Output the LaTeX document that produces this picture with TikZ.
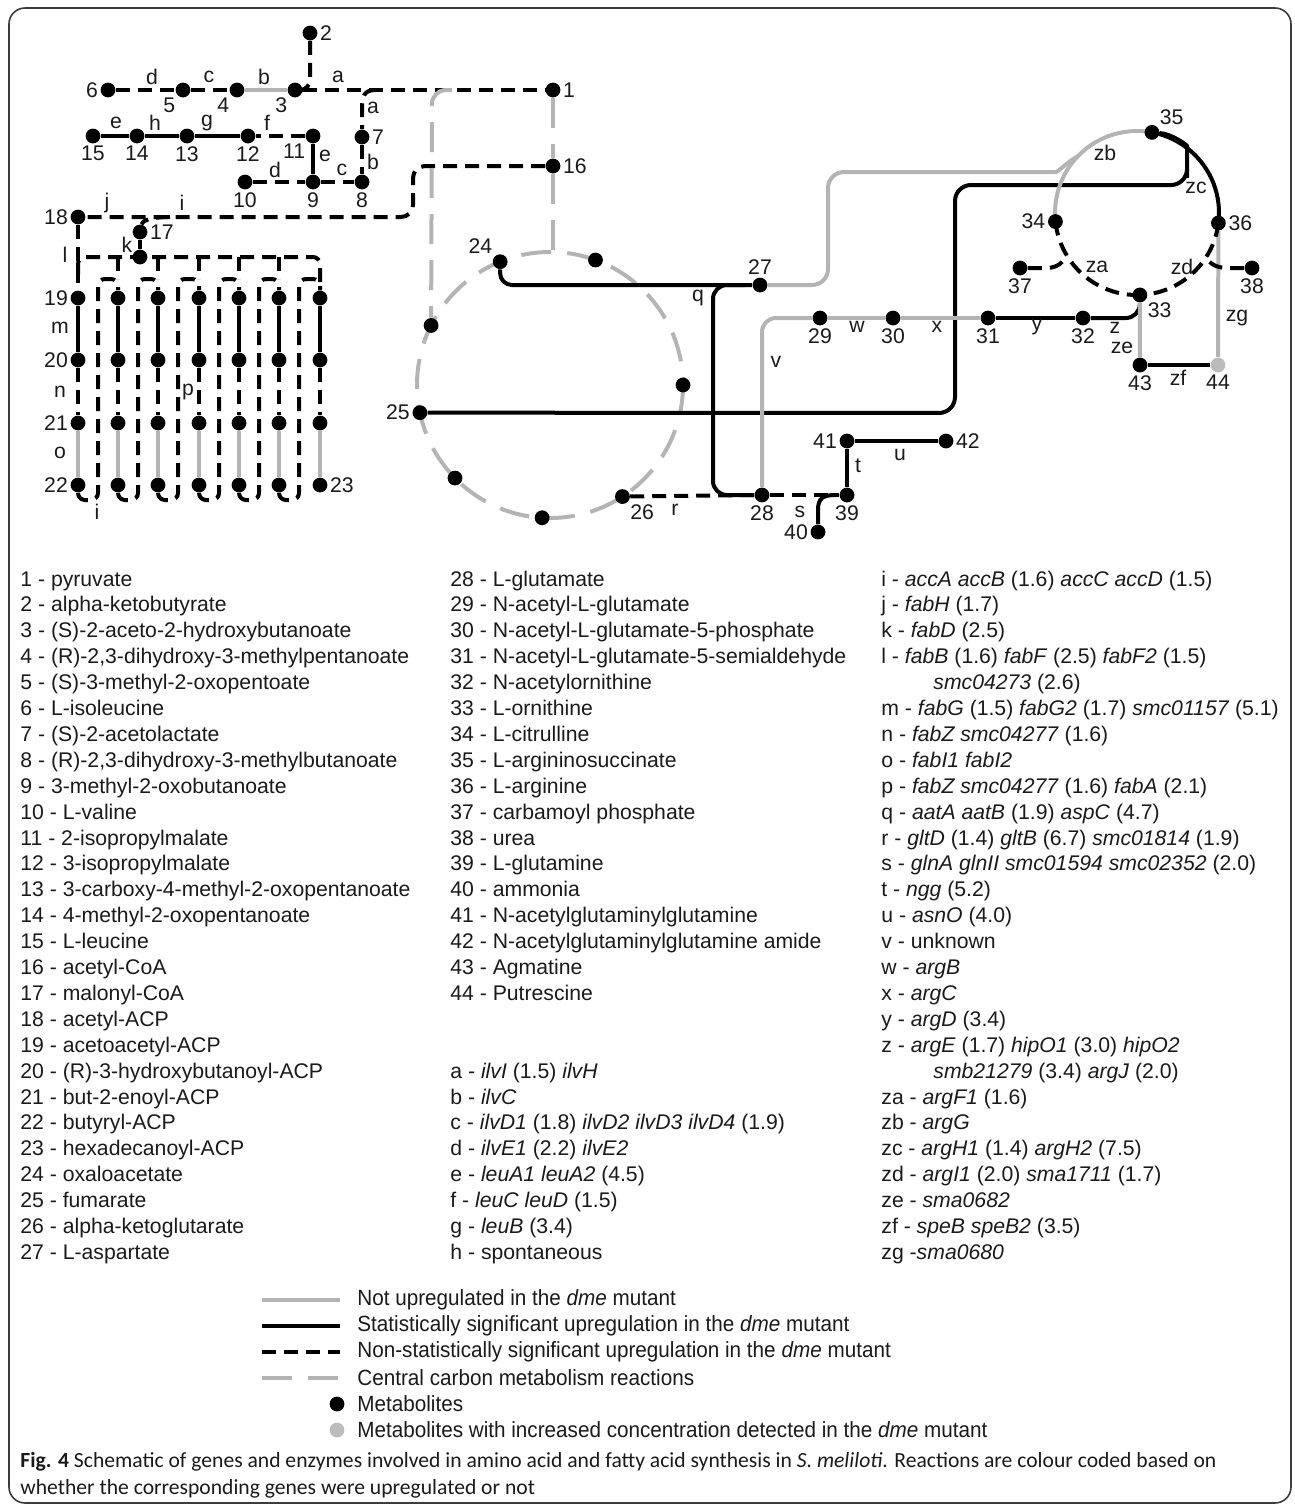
\documentclass[tikz,border=0pt]{standalone}
\usepackage{fontspec}
\setmainfont{Liberation Sans}
\newfontfamily\legfont[FakeStretch=0.94]{Liberation Sans}
\newfontfamily\capfont{Carlito}
\usetikzlibrary{positioning}
\pgfdeclarelayer{bg}
\pgfsetlayers{bg,main}
\definecolor{PathGray}{HTML}{B4B4B4}
\definecolor{DotGray}{HTML}{BCBCBC}
\definecolor{FrameGray}{HTML}{3C3C3C}
\definecolor{InkBlack}{HTML}{1A1A1A}

\tikzset{
  metab/.style={circle,fill=black,inner sep=0pt,minimum size=7.4pt},
  metabgray/.style={metab,fill=DotGray},
  numlab/.style={font=\fontsize{10.6}{12}\selectfont,text=InkBlack,inner sep=1pt},
  rxn/.style={font=\fontsize{10.6}{12}\selectfont,text=InkBlack,inner sep=0pt},
  sig/.style={line width=2pt,black},
  nss/.style={line width=2pt,black,dash pattern=on 7pt off 4pt},
  notup/.style={line width=2pt,PathGray},
  ccm/.style={line width=2pt,PathGray,dash pattern=on 15pt off 8pt},
  listtxt/.style={anchor=base west,inner sep=0pt,font=\fontsize{10.6}{12}\selectfont,text=InkBlack},
  legtxt/.style={anchor=west,inner sep=0pt,font=\legfont\fontsize{11}{12}\selectfont,text=InkBlack},
  captxt/.style={anchor=base west,inner sep=0pt,font=\capfont\fontsize{10.8}{12}\selectfont,text=InkBlack},
  every label/.style={numlab},
  label distance=0pt
}

\begin{document}
\begin{tikzpicture}[x=0.5pt,y=-0.5pt]
  \useasboundingbox (0,0) rectangle (1295,1506);
  \draw[FrameGray,line width=0.8pt,rounded corners=8pt] (9,8) rectangle (1291,1503);

  % branched chain amino acids
  \node[metab,label=right:1] (m1) at (553,90) {};
  \node[metab,label=right:2] (m2) at (310,33) {};
  \node[metab,label=below left:3] (m3) at (295,90) {};
  \node[metab,label=below left:4] (m4) at (237,90) {};
  \node[metab,label=below left:5] (m5) at (183,90) {};
  \node[metab,label=left:6] (m6) at (108,90) {};
  \node[metab,label=right:7] (m7) at (362,137) {};
  \node[metab,label=below:8] (m8) at (362,182) {};
  \node[metab,label=below:9] (m9) at (313,182) {};
  \node[metab,label=below:10] (m10) at (245,182) {};
  \node[metab,label=below left:11] (m11) at (313,136) {};
  \node[metab,label=below:12] (m12) at (248,136) {};
  \node[metab,label=below:13] (m13) at (187,136) {};
  \node[metab,label=below:14] (m14) at (137,136) {};
  \node[metab,label=below:15] (m15) at (93,136) {};
  \node[metab,label=right:16] (m16) at (553,166) {};
  \node[metab,label=right:17] (m17) at (140,232) {};
  \node[metab,label=left:18] (m18) at (78,217) {};
  \node[metab] (kdot) at (140,257) {};

  % fatty acid cycle
  \foreach \x [count=\k] in {78,118,158,199,239,279,320} {
    \node[metab] (fa\k) at (\x,298) {};
    \node[metab] (fb\k) at (\x,360) {};
    \node[metab] (fc\k) at (\x,423) {};
    \node[metab] (fd\k) at (\x,485) {};
  }
  \node[numlab,left=0pt of fa1] (n19) {19};
  \node[numlab,left=0pt of fb1] (n20) {20};
  \node[numlab,left=0pt of fc1] (n21) {21};
  \node[numlab,left=0pt of fd1] (n22) {22};
  \node[numlab,right=0pt of fd7] (n23) {23};

  % TCA cycle
  \coordinate (tca) at (550,385);
  \node[metab,label=above left:24] (m24) at ([shift={(248:133)}]tca) {};
  \node[metab,label=left:25] (m25) at ([shift={(168:133)}]tca) {};
  \node[metab,label=below right:26] (m26) at ([shift={(57:133)}]tca) {};
  \node[metab] (c1) at ([shift={(290:133)}]tca) {};
  \node[metab] (c2) at ([shift={(206.6:133)}]tca) {};
  \node[metab] (c3) at ([shift={(0:133)}]tca) {};
  \node[metab] (c4) at ([shift={(135.6:133)}]tca) {};
  \node[metab] (c5) at ([shift={(93.4:133)}]tca) {};

  % arginine
  \node[metab,label=above:27] (m27) at (760,285) {};
  \node[metab,label=below:28] (m28) at (762,495) {};
  \node[metab,label=below:29] (m29) at (820,318) {};
  \node[metab,label=below:30] (m30) at (893,318) {};
  \node[metab,label=below:31] (m31) at (988,318) {};
  \node[metab,label=below:32] (m32) at (1083,318) {};
  \coordinate (arg) at (1137,213);
  \node[metab,label=below right:33] (m33) at ([shift={(88:82)}]arg) {};
  \node[metab,label=left:34] (m34) at ([shift={(174:82)}]arg) {};
  \node[metab,label=above right:35] (m35) at ([shift={(280.5:82)}]arg) {};
  \node[metab,label=right:36] (m36) at ([shift={(7:82)}]arg) {};
  \node[metab,label=below:37] (m37) at (1020,268) {};
  \node[metab,label=below:38] (m38) at (1252,268) {};
  \node[metab,label=below:39] (m39) at (847,495) {};
  \node[metab,label=left:40] (m40) at (818,532) {};
  \node[metab,label=left:41] (m41) at (847,441) {};
  \node[metab,label=right:42] (m42) at (946,441) {};
  \node[metab,label=below:43] (m43) at (1140,365) {};
  \node[metabgray,label=below:44] (m44) at (1218,365) {};

  \begin{pgfonlayer}{bg}
    \draw[nss] (m6) -- (m5) -- (m4);
    \draw[notup] (m4) -- (m3);
    \draw[nss] (m3) -- (m1);
    \draw[nss,rounded corners=5pt] (m2) -- (310,90) -- (m3);
    \draw[nss] (376,90) .. controls (364,90) and (362,96) .. (362,108) -- (m7);
    \draw[nss] (m7) -- (m8);
    \draw[nss] (m10) -- (m9) -- (m8);
    \draw[sig] (m9) -- (m11);
    \draw[nss] (m11) -- (m12);
    \draw[sig] (m12) -- (m13) -- (m14) -- (m15);
    \draw[nss,rounded corners=6pt] (m16) -- (413,166) -- (413,217) -- (m18);
    \draw[nss] (170,217) .. controls (150,217) and (142,221) .. (m17);
    \draw[sig] (m17) -- (kdot);
    \draw[nss] (m18) -- (fa1);
    \draw[nss,rounded corners=3.5pt] (78,274) -- (78,257) -- (320,257) -- (fa7);
    \foreach \x in {118,158,199,239,279}
      \draw[nss] (\x,257) -- (\x,279);
    \foreach \k in {1,...,7} {
      \draw[sig] (fa\k) -- (fb\k);
      \draw[nss] (fb\k) -- (fc\k);
      \draw[notup] (fc\k) -- (fd\k);
    }
    \foreach \x/\m/\n [count=\k, evaluate=\k as \j using int(\k+1)] in
        {78/98/118, 118/138/158, 158/178/199, 199/219/239, 239/259/279, 279/299/320}
      \draw[nss,rounded corners=3.5pt] (fd\k.south) -- (\x,500) -- (\m,500) -- (\m,279) -- (\n,279) -- (fa\j);

    % central carbon metabolism
    \draw[ccm] (tca) circle[radius=133];
    \draw[ccm] (m1) -- (m16) -- (553,250);
    \draw[ccm,rounded corners=7pt] (452,90) -- (432,90) -- (c2);

    \draw[sig,rounded corners=6pt] (m24) -- (500,285) -- (m27);
    \draw[sig,rounded corners=7pt] (745,285) -- (713,285) -- (713,495) -- (m28);
    \draw[sig,rounded corners=8pt] (m25) -- (955,413) -- (955,185) -- (1187,185) -- (1187,162)
      .. controls (1187,145) and (1172,134) .. (m35);
    \draw[notup,rounded corners=8pt] (m27) -- (828,285) -- (828,172) -- (1040,172)
      .. controls (1058,172) and (1066,163) .. ([shift={(224:82)}]arg);
    \draw[nss] (m26) -- (m28);
    \draw[nss] (m28) -- (m39);
    \draw[sig] (m40) -- (818,510) .. controls (818,498) and (823,495) .. (836,495);
    \draw[sig] (m39) -- (m41) -- (m42);
    \draw[notup,rounded corners=7pt] (m28) |- (m29);
    \draw[notup] (m29) -- (m30) -- (m31);
    \draw[sig] (m31) -- (m32);
    \draw[sig,rounded corners=7pt] (m32) -| (m33);
    \draw[notup] (m33) -- (m43);
    \draw[sig] (m43) -- (m44);
    \draw[notup] (m36) -- (m44);
    \draw[notup] (m34.center) arc[start angle=174,end angle=280.5,radius=82];
    \draw[sig] (m35.center) arc[start angle=280.5,end angle=367,radius=82];
    \draw[nss] (m36.center) arc[start angle=7,end angle=88,radius=82];
    \draw[nss] (m34.center) arc[start angle=174,end angle=88,radius=82];
    \draw[nss] (m37) -- (1046,268) .. controls (1058,268) and (1063,262) .. ([shift={(149:82)}]arg);
    \draw[nss] (m38) -- (1228,268) .. controls (1215,268) and (1210,263) .. ([shift={(33:82)}]arg);
  \end{pgfonlayer}

  % reaction letters
  \foreach \nm/\x/\y/\t in {ra/338/77/a, ra2/373/108/a, rb/264/77/b, rb2/373/162/b,
      rc/209/77/c, rc2/342/170/c, rd/152/77/d, rd2/275/170/d, re/116/123/e, re2/325/156/e,
      rf/267/123/f, rg/207/123/g, rh/155/123/h, ri/182/203/i, ri2/97/512/i, rj/107/203/j,
      rk/127/245/k, rl/65/255/l, rm/60/328/m, rn/60/392/n, ro/60/453/o, rp/188/392/p,
      rq/698/298/q, rr/675/510/r, rs/800/512/s, rt/858/466/t, ru/900/455/u, rv/776/362/v,
      rw/857/327/w, rx/937/327/x, ry/1037/327/y, rz/1115/328/z, rza/1097/267/za,
      rzb/1105/153/zb, rzc/1196/188/zc, rzd/1182/267/zd, rze/1122/348/ze,
      rzf/1178/378/zf, rzg/1237/318/zg}
    \node[rxn] (\nm) at (\x,\y) {\t};

  % metabolite list
  \foreach \t [count=\i] in {pyruvate, alpha-ketobutyrate, {(S)-2-aceto-2-hydroxybutanoate},
      {(R)-2,3-dihydroxy-3-methylpentanoate}, {(S)-3-methyl-2-oxopentoate}, L-isoleucine,
      {(S)-2-acetolactate}, {(R)-2,3-dihydroxy-3-methylbutanoate}, 3-methyl-2-oxobutanoate,
      L-valine, 2-isopropylmalate, 3-isopropylmalate, 3-carboxy-4-methyl-2-oxopentanoate,
      4-methyl-2-oxopentanoate, L-leucine, acetyl-CoA, malonyl-CoA, acetyl-ACP,
      acetoacetyl-ACP, {(R)-3-hydroxybutanoyl-ACP}, but-2-enoyl-ACP, butyryl-ACP,
      hexadecanoyl-ACP, oxaloacetate, fumarate, alpha-ketoglutarate, L-aspartate}
    \node[listtxt] (la\i) at (20,{586+(\i-1)*25.9}) {\i{} - \t};
  \foreach \t [count=\i from 28] in {L-glutamate, N-acetyl-L-glutamate,
      N-acetyl-L-glutamate-5-phosphate, N-acetyl-L-glutamate-5-semialdehyde,
      N-acetylornithine, L-ornithine, L-citrulline, L-argininosuccinate, L-arginine,
      carbamoyl phosphate, urea, L-glutamine, ammonia, N-acetylglutaminylglutamine,
      N-acetylglutaminylglutamine amide, Agmatine, Putrescine}
    \node[listtxt] (lb\i) at (450,{586+(\i-28)*25.9}) {\i{} - \t};

  % enzyme list
  \foreach \r/\t in {19/{a - \textit{ilvI} (1.5) \textit{ilvH}}, 20/{b - \textit{ilvC}},
      21/{c - \textit{ilvD1} (1.8) \textit{ilvD2 ilvD3 ilvD4} (1.9)},
      22/{d - \textit{ilvE1} (2.2) \textit{ilvE2}}, 23/{e - \textit{leuA1 leuA2} (4.5)},
      24/{f - \textit{leuC leuD} (1.5)}, 25/{g - \textit{leuB} (3.4)}, 26/{h - spontaneous}}
    \node[listtxt] (le\r) at (450,{586+\r*25.9}) {\t};
  \foreach \r/\x/\t in {0/881/{i - \textit{accA accB} (1.6) \textit{accC accD} (1.5)},
      1/881/{j - \textit{fabH} (1.7)}, 2/881/{k - \textit{fabD} (2.5)},
      3/881/{l - \textit{fabB} (1.6) \textit{fabF} (2.5) \textit{fabF2} (1.5)},
      4/933/{\textit{smc04273} (2.6)},
      5/881/{m - \textit{fabG} (1.5) \textit{fabG2} (1.7) \textit{smc01157} (5.1)},
      6/881/{n - \textit{fabZ smc04277} (1.6)}, 7/881/{o - \textit{fabI1 fabI2}},
      8/881/{p - \textit{fabZ smc04277} (1.6) \textit{fabA} (2.1)},
      9/881/{q - \textit{aatA aatB} (1.9) \textit{aspC} (4.7)},
      10/881/{r - \textit{gltD} (1.4) \textit{gltB} (6.7) \textit{smc01814} (1.9)},
      11/881/{s - \textit{glnA glnII smc01594 smc02352} (2.0)},
      12/881/{t - \textit{ngg} (5.2)}, 13/881/{u - \textit{asnO} (4.0)},
      14/881/{v - unknown}, 15/881/{w - \textit{argB}}, 16/881/{x - \textit{argC}},
      17/881/{y - \textit{argD} (3.4)},
      18/881/{z - \textit{argE} (1.7) \textit{hipO1} (3.0) \textit{hipO2}},
      19/933/{\textit{smb21279} (3.4) \textit{argJ} (2.0)},
      20/881/{za - \textit{argF1} (1.6)}, 21/881/{zb - \textit{argG}},
      22/881/{zc - \textit{argH1} (1.4) \textit{argH2} (7.5)},
      23/881/{zd - \textit{argI1} (2.0) \textit{sma1711} (1.7)},
      24/881/{ze - \textit{sma0682}}, 25/881/{zf - \textit{speB speB2} (3.5)},
      26/881/{zg -\textit{sma0680}}}
    \node[listtxt] (lc\r) at (\x,{586+\r*25.9}) {\t};

  % legend
  \draw[notup] (262,1300) -- (340,1300);
  \draw[sig] (262,1326) -- (340,1326);
  \draw[nss] (262,1352) -- (340,1352);
  \draw[ccm] (262,1378) -- (340,1378);
  \node[metab] (kblack) at (337,1404) {};
  \node[metabgray] (kgray) at (337,1430) {};
  \foreach \r/\t in {0/{Not upregulated in the \textit{dme} mutant},
      1/{Statistically significant upregulation in the \textit{dme} mutant},
      2/{Non-statistically significant upregulation in the \textit{dme} mutant},
      3/{Central carbon metabolism reactions}, 4/{Metabolites},
      5/{Metabolites with increased concentration detected in the \textit{dme} mutant}}
    \node[legtxt] (lg\r) at (357,{1300+\r*26}) {\t};

  % caption
  \node[captxt] (cap1) at (20,1467) {\textbf{Fig. 4} Schematic of genes and enzymes involved in amino acid and fatty acid synthesis in \textit{S. meliloti}. Reactions are colour coded based on};
  \node[captxt] (cap2) at (20,1494) {whether the corresponding genes were upregulated or not};
\end{tikzpicture}
\end{document}
